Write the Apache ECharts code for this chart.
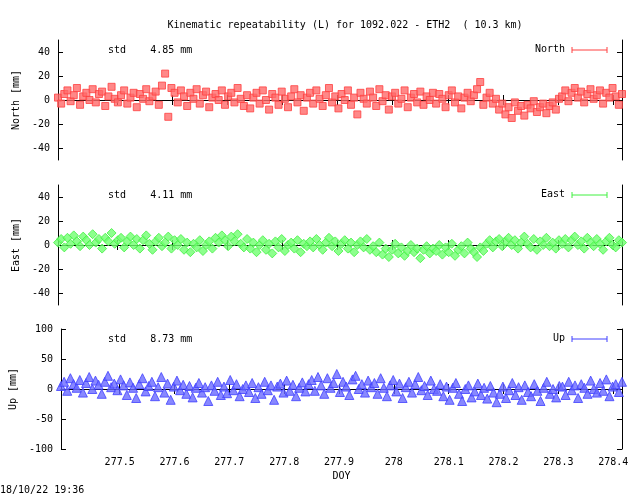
<!DOCTYPE html>
<html><head><meta charset="utf-8">
<script src="https://cdn.jsdelivr.net/npm/echarts@6/dist/echarts.min.js"></script>
<style>body{margin:0;background:#fff}#c{width:640px;height:496px}</style>
</head><body><div id="c"></div>
<script>
const t0 = 277.393, t1 = 278.416;
const xTicks = [277.5, 277.6, 277.7, 277.8, 277.9, 278, 278.1, 278.2, 278.3, 278.4];

const north = [2,-3,5,8,-1,4,10,-4,3,6,0,9,-2,5,7,-5,3,11,1,-2,
4,8,-3,2,6,-6,5,1,9,-1,3,7,-4,12,22,-14,10,6,-2,8,
3,-5,6,1,9,-3,4,7,-6,2,5,0,8,-4,3,6,-2,10,1,-5,
4,-7,2,6,-3,8,0,-8,5,2,-4,7,1,-6,3,9,-2,4,-9,2,
6,-3,8,1,-5,4,10,-2,3,-7,5,0,8,-4,2,-12,6,1,-3,7,
2,-5,9,-1,4,-8,3,6,-3,1,8,-6,2,5,-2,7,-4,3,0,6,
-3,5,1,-6,4,8,-2,3,-7,2,6,-1,4,9,15,-4,2,6,-3,1,
-8,-3,-12,-6,-15,-2,-9,-5,-13,-4,-7,-1,-10,-6,-3,-11,-5,-2,-8,1,
3,8,-1,6,10,2,7,-2,5,9,1,4,8,-3,6,2,10,3,-4,5];

const east = [2,5,-2,6,1,8,3,-1,7,4,0,9,2,5,-3,6,3,10,1,4,
6,-2,3,7,0,5,-3,4,8,1,-4,3,6,-1,2,7,-3,4,0,5,
-4,2,-6,1,-2,4,-5,0,3,-3,6,2,8,4,-1,7,3,9,1,-2,
5,-3,2,-6,0,4,-4,1,-7,3,-2,5,-5,0,2,-3,4,-6,1,-1,
3,-2,5,0,-4,2,6,-1,3,-5,1,4,-3,2,-6,0,3,-2,5,-4,
-1,-6,2,-8,-3,-10,-4,1,-7,-2,-9,-5,0,-6,-3,-11,-4,-1,-7,-3,
-5,0,-8,-2,-6,1,-9,-4,-1,-7,2,-3,-6,-10,-2,-5,1,4,-2,3,
5,-1,3,6,0,4,-3,2,7,1,-2,5,-4,3,0,6,-1,2,-3,4,
1,5,-2,4,7,0,3,-3,6,2,-1,5,1,-4,3,6,0,-2,4,2];

const up = [5,12,-3,18,8,2,15,-6,10,20,0,14,7,-8,12,22,3,9,-2,16,
6,-10,11,2,-15,8,18,-4,5,12,-12,3,20,-6,9,-18,4,14,-2,7,
-8,5,-14,2,10,-6,3,-20,6,-3,12,-10,4,-7,15,-2,8,-12,0,6,
-5,10,-15,3,-8,12,-2,6,-18,4,9,-6,14,-3,7,-12,2,11,-4,8,
15,-3,20,6,-8,18,2,10,25,-5,12,4,-10,16,22,0,8,-6,14,3,
10,-8,18,2,-12,6,15,-4,9,-15,3,12,-6,8,20,-2,5,-10,14,0,
-3,8,-12,4,-18,2,10,-8,-20,0,6,-14,-4,9,-10,2,-16,5,-6,-22,
-8,4,-15,-2,10,-10,3,-18,6,-5,-12,8,-3,-20,2,12,-8,0,-14,5,
4,-10,12,-2,6,-15,8,2,-8,14,0,-6,10,-3,16,-12,4,8,-5,12];

const neTicks = [-40, -20, 0, 20, 40];
const upTicks = [-100, -50, 0, 50, 100];

const FONT = 'DejaVu Sans Mono';
const epochs = vals => vals.map((v, i) => [t0 + (t1 - t0) * i / (vals.length - 1), v]);

const panels = [
  {name:'North', vals:north, min:-50, max:50, ticks:neTicks, color:'#ff4040', fill:'#ff6a6a', symbol:'rect', size:7, std:'4.85', top:40},
  {name:'East', vals:east, min:-50, max:50, ticks:neTicks, color:'#40f040', fill:'#70ff70', symbol:'diamond', size:9, std:'4.11', top:185},
  {name:'Up', vals:up, min:-100, max:100, ticks:upTicks, color:'#4040ff', fill:'#6a6aff', symbol:'triangle', size:9, std:'8.73', top:329}
];

const grid = [], xAxis = [], yAxis = [], series = [], graphic = [];
panels.forEach((p, k) => {
  grid.push({left:58, width:564, top:p.top, height:120});
  const last = k === 2;
  const xTick = {show:true, inside:true, length:5, lineStyle:{color:'#000'}, customValues:xTicks};
  const yTick = {show:true, inside:true, length:5, lineStyle:{color:'#000'}, customValues:p.ticks};
  xAxis.push({gridIndex:k, type:'value', min:t0, max:t1,
    axisLine:{lineStyle:{color:'#000'}}, axisTick:xTick, splitLine:{show:false},
    name: last ? 'DOY' : '', nameLocation:'middle', nameGap:22, nameTextStyle:{fontFamily:FONT, fontSize:10, color:'#000'},
    axisLabel:{show:last, fontFamily:FONT, fontSize:10, color:'#000', customValues:xTicks,
      formatter: v => String(+v.toFixed(1))}});
  xAxis.push({gridIndex:k, type:'value', position:'top', min:t0, max:t1,
    axisLine:{lineStyle:{color:'#000'}}, axisTick:xTick, axisLabel:{show:false}, splitLine:{show:false}});
  yAxis.push({gridIndex:k, type:'value', min:p.min, max:p.max,
    axisLine:{show:true, lineStyle:{color:'#000'}}, axisTick:yTick, splitLine:{show:false},
    axisLabel:{fontFamily:FONT, fontSize:10, color:'#000', customValues:p.ticks},
    name:p.name + ' [mm]', nameLocation:'middle', nameGap:36, nameTextStyle:{fontFamily:FONT, fontSize:10, color:'#000'}});
  yAxis.push({gridIndex:k, type:'value', position:'right', min:p.min, max:p.max,
    axisLine:{show:true, lineStyle:{color:'#000'}}, axisTick:yTick, axisLabel:{show:false}, splitLine:{show:false}});
  series.push({type:'scatter', xAxisIndex:2*k, yAxisIndex:2*k, data:epochs(p.vals),
    symbol:p.symbol, symbolSize:p.size, silent:true, clip:true,
    itemStyle:{color:p.fill, borderColor:p.color, borderWidth:1},
    markLine:{silent:true, symbol:'none', label:{show:false}, lineStyle:{color:'#000', width:1, type:'solid'},
      data:[{yAxis:0}], z:1}});
  graphic.push({type:'text', left:108, top:p.top + 5, style:{text:'std    ' + p.std + ' mm', font:'10px ' + FONT, fill:'#000'}});
  graphic.push({type:'text', right:75, top:p.top + 4, style:{text:p.name, font:'10px ' + FONT, fill:'#000', align:'right'}});
  graphic.push({type:'line', shape:{x1:572, y1:p.top + 10, x2:607, y2:p.top + 10}, style:{stroke:p.color, lineWidth:1}});
  graphic.push({type:'line', shape:{x1:572, y1:p.top + 7, x2:572, y2:p.top + 13}, style:{stroke:p.color, lineWidth:1}});
  graphic.push({type:'line', shape:{x1:607, y1:p.top + 7, x2:607, y2:p.top + 13}, style:{stroke:p.color, lineWidth:1}});
});
graphic.push({type:'text', left:0, top:485, style:{text:'18/10/22 19:36', font:'10px ' + FONT, fill:'#000'}});

const chart = echarts.init(document.getElementById('c'));
chart.setOption({
  animation:false,
  title:{text:'Kinematic repeatability (L) for 1092.022 - ETH2  ( 10.3 km)', left:340, top:15, textAlign:'center',
    textStyle:{fontFamily:FONT, fontSize:10, fontWeight:'normal', color:'#000'}},
  grid, xAxis, yAxis, series, graphic
});
</script></body></html>
